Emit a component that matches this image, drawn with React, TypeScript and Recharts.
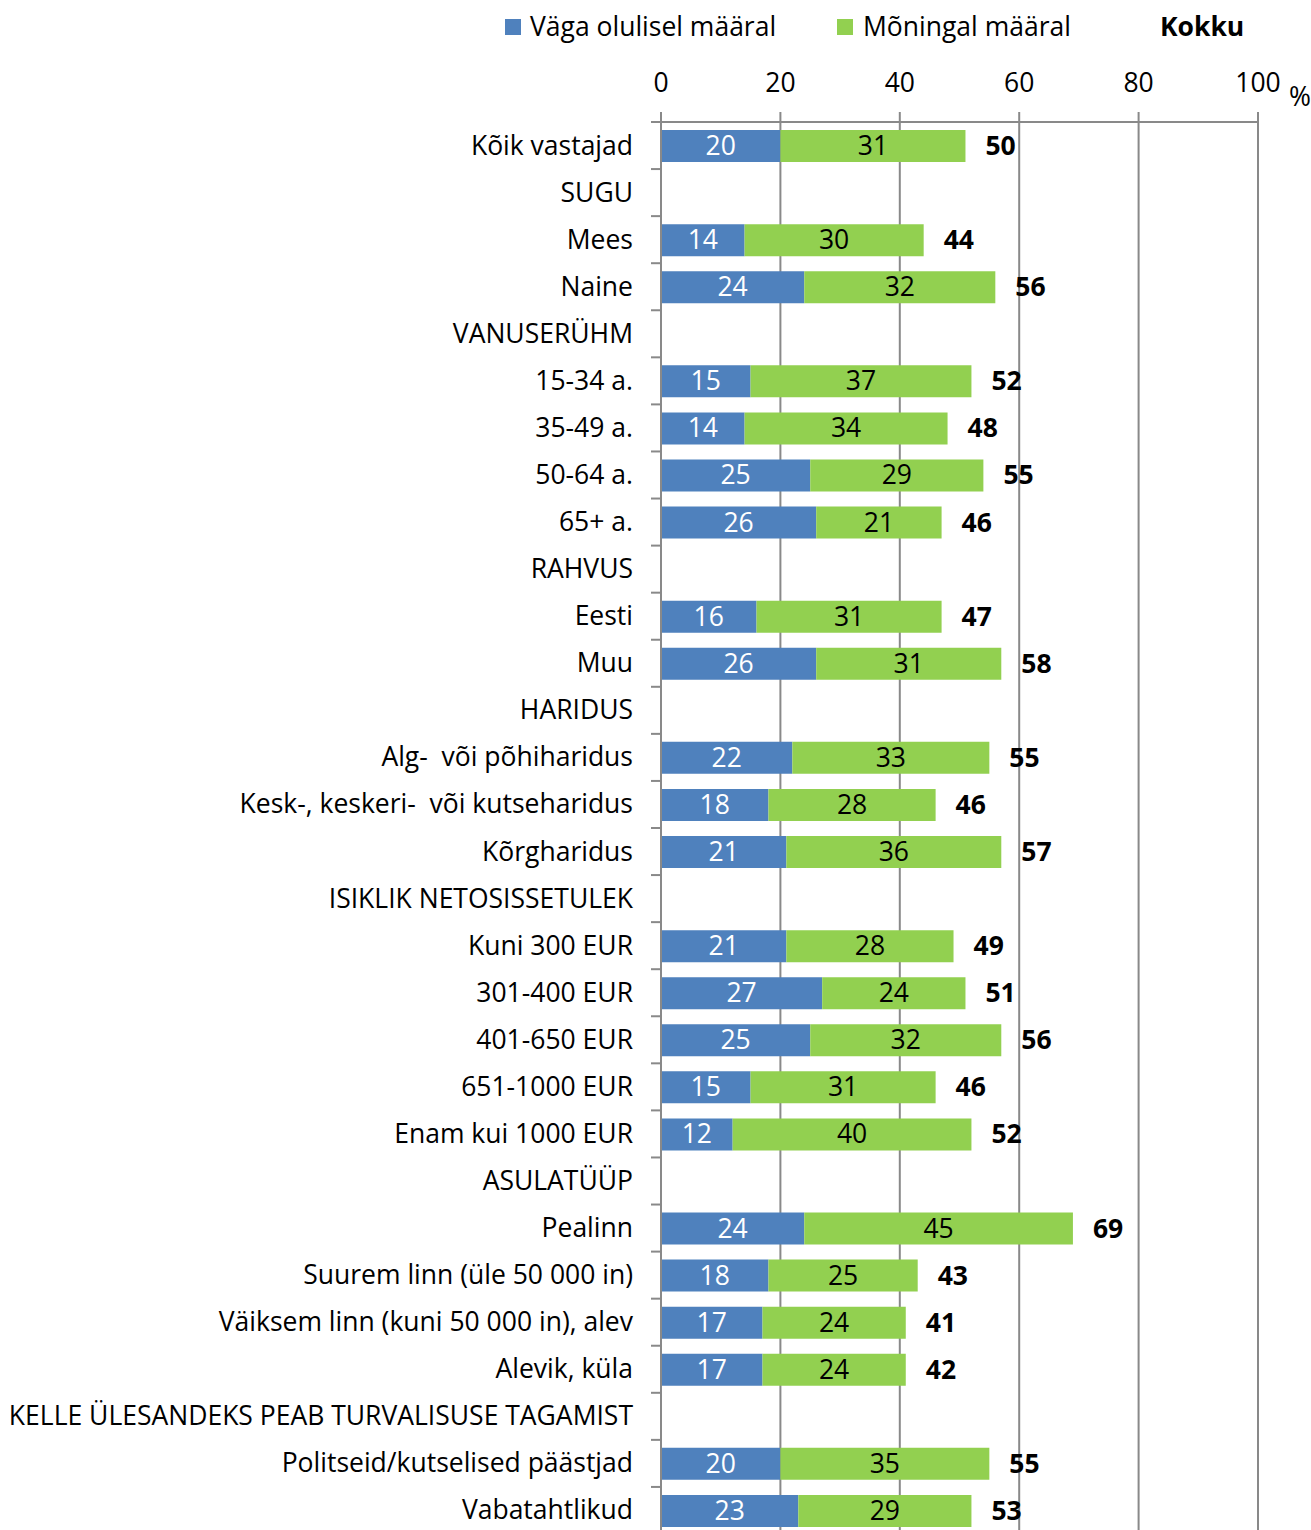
import { Bar, BarChart, CartesianGrid, LabelList, XAxis, YAxis } from 'recharts';

const categories = [
  'Kõik vastajad', 'SUGU', 'Mees', 'Naine', 'VANUSERÜHM', '15-34 a.', '35-49 a.', '50-64 a.', '65+ a.',
  'RAHVUS', 'Eesti', 'Muu', 'HARIDUS', 'Alg-  või põhiharidus', 'Kesk-, keskeri-  või kutseharidus',
  'Kõrgharidus', 'ISIKLIK NETOSISSETULEK', 'Kuni 300 EUR', '301-400 EUR', '401-650 EUR', '651-1000 EUR',
  'Enam kui 1000 EUR', 'ASULATÜÜP', 'Pealinn', 'Suurem linn (üle 50 000 in)',
  'Väiksem linn (kuni 50 000 in), alev', 'Alevik, küla', 'KELLE ÜLESANDEKS PEAB TURVALISUSE TAGAMIST',
  'Politseid/kutselised päästjad', 'Vabatahtlikud',
];
const veryMuch = [20, null, 14, 24, null, 15, 14, 25, 26, null, 16, 26, null, 22, 18, 21, null, 21, 27, 25, 15, 12, null, 24, 18, 17, 17, null, 20, 23];
const somewhat = [31, null, 30, 32, null, 37, 34, 29, 21, null, 31, 31, null, 33, 28, 36, null, 28, 24, 32, 31, 40, null, 45, 25, 24, 24, null, 35, 29];
const totals = [50, null, 44, 56, null, 52, 48, 55, 46, null, 47, 58, null, 55, 46, 57, null, 49, 51, 56, 46, 52, null, 69, 43, 41, 42, null, 55, 53];
const xTicks = [0, 20, 40, 60, 80, 100];

const data = categories.map((name, i) => ({ name, high: veryMuch[i], some: somewhat[i], total: totals[i] }));

const FONT = '"Open Sans", Lato, sans-serif';
const FS = 26.5;
const W = 1311;
const H = 1530;
const LEFT = 661;
const TOP = 122;
const BOTTOM = -4;
const STEP = (H - TOP - BOTTOM) / categories.length;
const BLUE = '#4f81bd';
const GREEN = '#92d050';
const GRID = '#898989';

function CategoryTick(props: any) {
  const { y, payload } = props;
  return (
    <g>
      <line x1={LEFT - 10} x2={LEFT} y1={y - STEP / 2} y2={y - STEP / 2} stroke={GRID} strokeWidth={2} />
      <text
        x={LEFT - 28}
        y={y}
        dy={9}
        textAnchor="end"
        fontSize={FS}
        fontFamily={FONT}
        fill="#000"
        style={{ whiteSpace: 'pre' }}
      >
        {payload.value}
      </text>
    </g>
  );
}

const centerLabel = (color: string) => (p: any) => {
  if (p.value == null) return null;
  return (
    <text x={p.x + p.width / 2} y={p.y + p.height / 2} dy={9} textAnchor="middle" fontSize={FS} fontFamily={FONT} fill={color}>
      {p.value}
    </text>
  );
};

const totalLabel = (p: any) => {
  if (p.value == null) return null;
  return (
    <text x={p.x + p.width + 20} y={p.y + p.height / 2} dy={9} textAnchor="start" fontSize={FS} fontWeight="bold" fontFamily={FONT} fill="#000">
      {p.value}
    </text>
  );
};

export default function App() {
  const legendText = { position: 'absolute' as const, top: 8, fontSize: FS, fontFamily: FONT, lineHeight: '36px' };
  const swatch = (color: string, left: number) => (
    <div style={{ position: 'absolute', left, top: 19, width: 16, height: 16, background: color }} />
  );
  return (
    <div style={{ position: 'absolute', top: 0, left: 0, width: W, height: H, overflow: 'hidden', background: '#fff' }}>
      {swatch(BLUE, 505)}
      <div style={{ ...legendText, left: 530 }}>Väga olulisel määral</div>
      {swatch(GREEN, 837)}
      <div style={{ ...legendText, left: 863 }}>Mõningal määral</div>
      <div style={{ ...legendText, left: 1160, fontWeight: 'bold' }}>Kokku</div>
      <div style={{ ...legendText, left: 1289, top: 78 }}>%</div>
      <BarChart
        width={W}
        height={H}
        data={data}
        layout="vertical"
        margin={{ top: 0, right: W - 1258, bottom: BOTTOM, left: 0 }}
        barSize={32}
      >
        <CartesianGrid horizontal={false} stroke={GRID} strokeWidth={2} />
        <XAxis
          type="number"
          orientation="top"
          domain={[0, 100]}
          ticks={xTicks}
          height={TOP}
          tickSize={10}
          tickMargin={20}
          axisLine={{ stroke: GRID, strokeWidth: 2 }}
          tickLine={{ stroke: GRID, strokeWidth: 2 }}
          tick={{ fontSize: FS, fontFamily: FONT, fill: '#000' }}
        />
        <YAxis
          type="category"
          dataKey="name"
          width={LEFT}
          axisLine={{ stroke: GRID, strokeWidth: 2 }}
          tickLine={false}
          tick={<CategoryTick />}
          interval={0}
        />
        <Bar dataKey="high" stackId="a" fill={BLUE} isAnimationActive={false}>
          <LabelList dataKey="high" content={centerLabel('#fff')} />
        </Bar>
        <Bar dataKey="some" stackId="a" fill={GREEN} isAnimationActive={false}>
          <LabelList dataKey="some" content={centerLabel('#000')} />
          <LabelList dataKey="total" content={totalLabel} />
        </Bar>
      </BarChart>
    </div>
  );
}
